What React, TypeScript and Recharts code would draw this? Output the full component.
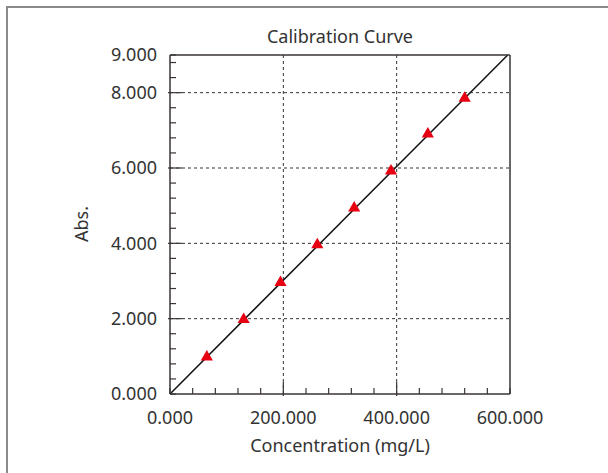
import { ComposedChart, XAxis, YAxis, CartesianGrid, Line, Scatter } from 'recharts';

// calibration standards
const concentrations = [65, 130, 195, 260, 325, 390, 455, 520];
const absorbances = [0.98, 1.98, 2.96, 3.96, 4.94, 5.92, 6.9, 7.85];

// fitted line end points
const fitX = [0, 596];
const fitY = [0, 9];

const xTicks = [0, 40, 80, 120, 160, 200, 240, 280, 320, 360, 400, 440, 480, 520, 560, 600];
const xMajor = [0, 200, 400, 600];
const yTicks = [0, 0.4, 0.8, 1.2, 1.6, 2, 2.4, 2.8, 3.2, 3.6, 4, 4.4, 4.8, 5.2, 5.6, 6, 6.4, 6.8, 7.2, 7.6, 8, 8.4, 8.8, 9];
const yMajor = [0, 2, 4, 6, 8, 9];

const points = concentrations.map((x, i) => ({ x, y: absorbances[i] }));
const fitLine = fitX.map((x, i) => ({ x, y: fitY[i] }));

const FONT = '"Noto Sans", "Open Sans", sans-serif';
const TEXT = '#333';
const AXIS = '#3a3434';

const isMajor = (list: number[], v: number) => list.includes(v) && v !== list[0] && v !== list[list.length - 1];

function BottomTick({ x, y, payload }: any) {
  const v = payload.value;
  const big = isMajor(xMajor, v);
  return (
    <g>
      <line x1={x} x2={x} y1={y + (big ? 2 : 0)} y2={y - (big ? 12 : 6)} stroke={AXIS} strokeWidth={1.2} />
      {xMajor.includes(v) && (
        <text x={x} y={y + 30} textAnchor="middle" fontFamily={FONT} fontSize={18} fill={TEXT}>
          {v.toFixed(3)}
        </text>
      )}
    </g>
  );
}

function TopTick({ x, y, payload }: any) {
  const big = isMajor(xMajor, payload.value);
  return <line x1={x} x2={x} y1={y} y2={y + (big ? 12 : 6)} stroke={AXIS} strokeWidth={1.2} />;
}

function LeftTick({ x, y, payload }: any) {
  const v = payload.value;
  const big = isMajor(yMajor, v);
  return (
    <g>
      <line x1={x - (big ? 2 : 0)} x2={x + (big ? 12 : 6)} y1={y} y2={y} stroke={AXIS} strokeWidth={1.2} />
      {yMajor.includes(v) && (
        <text x={x - 13} y={y} dy="0.36em" textAnchor="end" fontFamily={FONT} fontSize={18} fill={TEXT}>
          {v.toFixed(3)}
        </text>
      )}
    </g>
  );
}

function RightTick({ x, y, payload }: any) {
  const big = isMajor(yMajor, payload.value);
  return <line x1={x} x2={x - (big ? 12 : 6)} y1={y} y2={y} stroke={AXIS} strokeWidth={1.2} />;
}

export default function App() {
  return (
    <div style={{ position: 'absolute', left: 0, top: 0, width: 608, height: 473, overflow: 'hidden', background: '#fff' }}>
      <ComposedChart width={608} height={473} margin={{ top: 54, right: 97, bottom: 49, left: 100 }}>
        <CartesianGrid
          horizontalValues={[2, 4, 6, 8]}
          verticalValues={[200, 400]}
          stroke="#333"
          strokeDasharray="3 3"
        />
        <XAxis
          type="number"
          dataKey="x"
          domain={[0, 600]}
          ticks={xTicks}
          interval={0}
          height={30}
          tickSize={0}
          tickMargin={0}
          tickLine={false}
          axisLine={{ stroke: AXIS, strokeWidth: 1.5 }}
          tick={<BottomTick />}
        />
        <XAxis
          xAxisId="top"
          orientation="top"
          type="number"
          dataKey="x"
          domain={[0, 600]}
          ticks={xTicks}
          interval={0}
          height={1}
          tickSize={0}
          tickMargin={0}
          tickLine={false}
          axisLine={{ stroke: AXIS, strokeWidth: 1.5 }}
          tick={<TopTick />}
        />
        <YAxis
          type="number"
          domain={[0, 9]}
          ticks={yTicks}
          interval={0}
          width={70}
          tickSize={0}
          tickMargin={0}
          tickLine={false}
          axisLine={{ stroke: AXIS, strokeWidth: 1.5 }}
          tick={<LeftTick />}
        />
        <YAxis
          yAxisId="right"
          orientation="right"
          type="number"
          domain={[0, 9]}
          ticks={yTicks}
          interval={0}
          width={1}
          tickSize={0}
          tickMargin={0}
          tickLine={false}
          axisLine={{ stroke: AXIS, strokeWidth: 1.5 }}
          tick={<RightTick />}
        />
        <Line
          data={fitLine}
          dataKey="y"
          type="linear"
          stroke="#111"
          strokeWidth={1.5}
          dot={false}
          activeDot={false}
          isAnimationActive={false}
        />
        <Scatter data={points} dataKey="y" shape="triangle" fill="#e60012" isAnimationActive={false} />
      </ComposedChart>
      <svg width={608} height={473} style={{ position: 'absolute', left: 0, top: 0, pointerEvents: 'none' }}>
        <path d="M7 473 V7 H608" fill="none" stroke="#8a8a8a" strokeWidth={2} />
        <text x={340} y={43} textAnchor="middle" fontFamily={FONT} fontSize={18} fill={TEXT}>
          Calibration Curve
        </text>
        <text x={340} y={452} textAnchor="middle" fontFamily={FONT} fontSize={18} fill={TEXT}>
          Concentration (mg/L)
        </text>
        <text x={88} y={224} textAnchor="middle" fontFamily={FONT} fontSize={18} fill={TEXT} transform="rotate(-90 88 224)">
          Abs.
        </text>
      </svg>
    </div>
  );
}
